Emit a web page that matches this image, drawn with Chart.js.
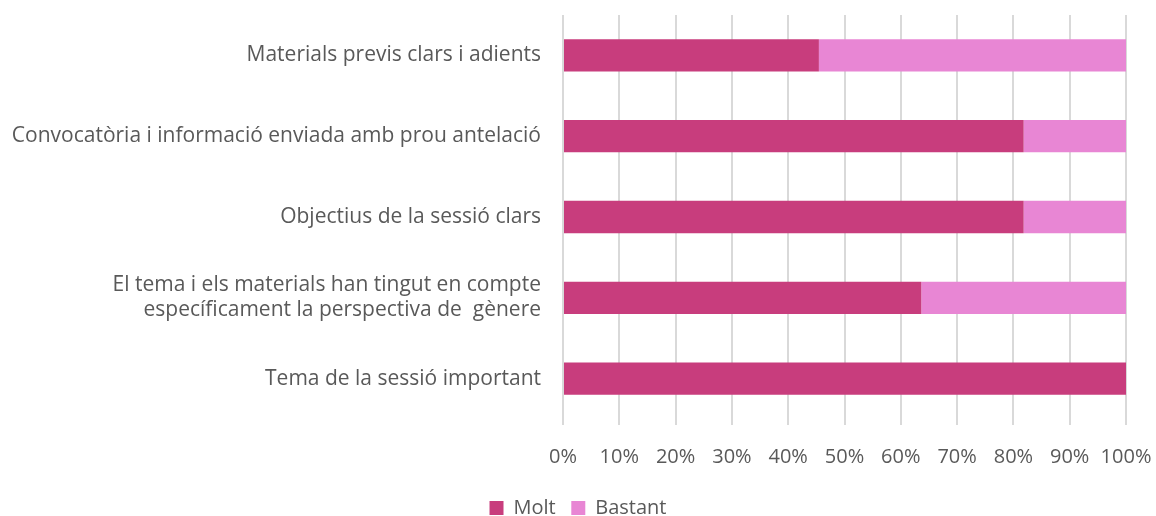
<!DOCTYPE html>
<html>
<head>
<meta charset="utf-8">
<script src="https://cdn.jsdelivr.net/npm/chart.js"></script>
</head>
<style>
body { margin: 0; background: #fff; }
#chart-container { width: 1156px; height: 516px; }
</style>
<body>
<div id="chart-container">
  <canvas id="chart"></canvas>
</div>
<script>
const categories = [
  'Materials previs clars i adients',
  'Convocatòria i informació enviada amb prou antelació',
  'Objectius de la sessió clars',
  ['El tema i els materials han tingut en compte', 'específicament la perspectiva de  gènere'],
  'Tema de la sessió important'
];
const molt = [45.45, 81.82, 81.82, 63.64, 100];
const bastant = [54.55, 18.18, 18.18, 36.36, 0];
const xTicks = [0, 10, 20, 30, 40, 50, 60, 70, 80, 90, 100];

Chart.defaults.font.family = "'Open Sans', sans-serif";
Chart.defaults.color = '#595959';

const chart = new Chart(document.getElementById('chart'), {
  type: 'bar',
  data: {
    labels: categories,
    datasets: [
      { label: 'Molt', data: molt, backgroundColor: '#C83D7D', barPercentage: 0.4, categoryPercentage: 1 },
      { label: 'Bastant', data: bastant, backgroundColor: '#E886D4', barPercentage: 0.4, categoryPercentage: 1 }
    ]
  },
  options: {
    indexAxis: 'y',
    responsive: true,
    maintainAspectRatio: false,
    animation: false,
    layout: { padding: { top: 15, right: 0, bottom: -12, left: 0 } },
    plugins: {
      tooltip: { enabled: false },
      legend: {
        position: 'bottom',
        labels: {
          boxWidth: 14, boxHeight: 14, font: { size: 20 }, padding: 0,
          // padding 0 keeps the legend low, so spacing between items comes from trailing spaces
          generateLabels: (c) => {
            const items = Chart.defaults.plugins.legend.labels.generateLabels(c);
            return items.map((l, i) => i < items.length - 1 ? { ...l, text: l.text + '   ' } : l);
          }
        }
      }
    },
    scales: {
      x: {
        stacked: true,
        min: 0,
        max: 100,
        afterBuildTicks: (scale) => { scale.ticks = xTicks.map(v => ({ value: v })); },
        ticks: { callback: v => v + '%', font: { size: 20 }, padding: 20, maxRotation: 0, autoSkip: false },
        grid: { color: '#D9D9D9', lineWidth: 2, tickLength: 6 },
        border: { display: false },
        afterFit: (scale) => { scale.height = 79; scale.paddingLeft = 0; scale.paddingRight = 30; }
      },
      y: {
        stacked: true,
        ticks: { font: { size: 21 }, padding: 14 },
        grid: { display: false },
        border: { display: false },
        afterFit: (scale) => { scale.width = 563; scale.paddingTop = 0; scale.paddingBottom = 0; }
      }
    }
  }
});
</script>
</body>
</html>
